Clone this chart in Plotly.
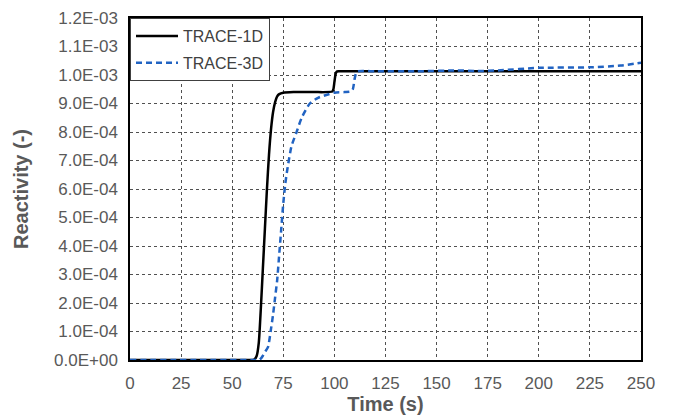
import plotly.graph_objects as go

# TRACE-1D
t_1d = [0, 55, 60, 61, 62, 63, 64, 65, 66, 67, 68, 69, 70, 71, 72, 73, 75, 80, 90, 99,
        99.5, 100, 100.5, 101, 102, 110, 150, 200, 250]
r_1d = [0, 0, 0, 0.3e-5, 1.5e-5, 6e-5, 1.8e-4, 3.2e-4, 4.6e-4, 6.0e-4, 7.2e-4, 8.1e-4, 8.7e-4,
        9.05e-4, 9.25e-4, 9.33e-4, 9.38e-4, 9.4e-4, 9.4e-4, 9.42e-4,
        9.5e-4, 9.75e-4, 1.0e-3, 1.011e-3, 1.013e-3, 1.013e-3, 1.013e-3, 1.013e-3, 1.013e-3]

# TRACE-3D
t_3d = [0, 60, 63, 64, 65, 66, 67.5, 69, 70, 71, 72, 73, 74, 75, 76, 77, 79, 81.5, 84, 88,
        92, 96, 100, 105, 108, 109, 110, 111, 120, 140, 160, 170, 180, 200, 225, 240, 250]
r_3d = [0, 0, 0, 0.5e-5, 1.5e-5, 2.8e-5, 4.5e-5, 1.1e-4, 1.6e-4, 2.2e-4, 2.8e-4, 3.7e-4,
        4.6e-4, 5.5e-4, 6.2e-4, 6.7e-4, 7.5e-4, 8.0e-4, 8.5e-4, 9.0e-4,
        9.2e-4, 9.3e-4, 9.38e-4, 9.4e-4, 9.42e-4, 9.5e-4, 9.9e-4, 1.012e-3, 1.013e-3,
        1.013e-3, 1.016e-3, 1.014e-3, 1.016e-3, 1.025e-3, 1.027e-3, 1.033e-3, 1.043e-3]

x_ticks = [0, 25, 50, 75, 100, 125, 150, 175, 200, 225, 250]
y_ticks = [0, 1e-4, 2e-4, 3e-4, 4e-4, 5e-4, 6e-4, 7e-4, 8e-4, 9e-4, 1e-3, 1.1e-3, 1.2e-3]
y_labels = ["0.0E+00", "1.0E-04", "2.0E-04", "3.0E-04", "4.0E-04", "5.0E-04", "6.0E-04",
            "7.0E-04", "8.0E-04", "9.0E-04", "1.0E-03", "1.1E-03", "1.2E-03"]

FONT = "Liberation Sans, Arial, sans-serif"

fig = go.Figure()
fig.add_trace(go.Scatter(x=t_1d, y=r_1d, mode="lines", name="TRACE-1D", legendgroup="a",
                         line=dict(color="black", width=2.5, shape="spline", smoothing=0.6)))
fig.add_trace(go.Scatter(x=t_3d, y=r_3d, mode="lines", name="TRACE-3D", legendgroup="b",
                         line=dict(color="#2163C2", width=2.5, dash="6px,4px",
                                   shape="spline", smoothing=0.6)))

tick_font = dict(family=FONT, size=17, color="#595959")
title_font = dict(family=FONT, size=20, color="#595959")

fig.update_layout(
    width=667, height=412,
    margin=dict(l=122, r=34, t=10, b=60),
    paper_bgcolor="white", plot_bgcolor="white",
    showlegend=True,
    legend=dict(x=0, y=1, xanchor="left", yanchor="top",
                bgcolor="white", bordercolor="#404040", borderwidth=1,
                font=dict(family=FONT, size=16, color="#404040"),
                tracegroupgap=3, itemwidth=42),
)
fig.update_xaxes(range=[0, 250], tickvals=x_ticks, ticks="", tickfont=tick_font,
                 automargin=False, ticklabelstandoff=7, ticklabeloverflow="allow",
                 showgrid=True, gridcolor="#505050", griddash="3px,3px", gridwidth=1,
                 showline=True, linecolor="black", linewidth=1.5, mirror=True,
                 zeroline=False,
                 title=dict(text="<b>Time (s)</b>", font=title_font, standoff=5))
fig.update_yaxes(range=[0, 1.2e-3], tickvals=y_ticks, ticktext=y_labels, ticks="",
                 tickfont=tick_font, automargin=False, ticklabelstandoff=7,
                 ticklabeloverflow="allow",
                 showgrid=True, gridcolor="#505050", griddash="3px,3px", gridwidth=1,
                 showline=True, linecolor="black", linewidth=1.5, mirror=True,
                 zeroline=False,
                 title=dict(text="<b>Reactivity (-)</b>", font=title_font, standoff=20))

fig.write_html("out.html")
